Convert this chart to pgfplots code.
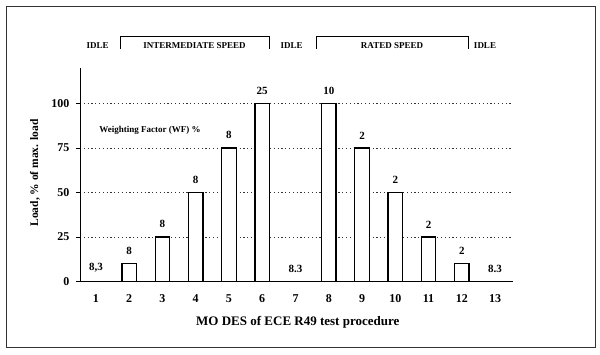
\documentclass[border=0pt]{standalone}
\usepackage{fontspec}
\setmainfont{Liberation Serif}
\usepackage{pgfplots}
\pgfplotsset{compat=1.18}
\begin{document}
\begin{tikzpicture}[x=1pt,y=1pt]
\useasboundingbox (-80,-72.5) rectangle (520,281.5);
\draw[line width=0.8pt, black!80] (-74,-65.5) rectangle (515,275.5);
\begin{axis}[
  at={(0,0)}, anchor=south west,
  width=433pt, height=213.5pt, scale only axis,
  xmin=0.52, xmax=13.54, ymin=0, ymax=120,
  axis x line=bottom, axis y line=left,
  axis line style={-, line width=0.8pt},
  xtick={1,...,13}, ytick={0,25,50,75,100},
  x tick style={draw=none}, y tick style={line width=0.8pt, black},
  tick align=outside, major tick length=4pt,
  ymajorgrids, grid style={dash pattern=on 1.2pt off 2.6pt, line width=0.8pt, black!80},
  ticklabel style={font=\bfseries\fontsize{12}{14}\selectfont},
  xticklabel style={text height=8pt, text depth=0pt, anchor=center, yshift=-13pt},
  yticklabel style={xshift=-3pt},
  /pgf/number format/assume math mode=true,
  xlabel={MO DES of ECE R49 test procedure},
  ylabel={Load, \% of max. load},
  xlabel style={font=\bfseries\fontsize{13}{15}\selectfont, at={(axis description cs:0.503,-0.19)}, anchor=center},
  ylabel style={font=\bfseries\fontsize{11.5}{14}\selectfont, at={(axis description cs:-0.104,0.508)}, anchor=center},
  clip=false,
]
\addplot[ybar, bar width=14.5pt, fill=white, draw=black, line width=1.3pt, bar shift=0pt,
  nodes near coords, point meta=explicit symbolic,
  every node near coord/.append style={font=\bfseries\fontsize{11}{13}\selectfont, yshift=5pt, black}]
  table[x=x, y=y, meta=lab]{
x y lab
1 0 8,3
2 10 8
3 25 8
4 50 8
5 75 8
6 100 25
7 0 8.3
8 100 10
9 75 2
10 50 2
11 25 2
12 10 2
13 0 8.3
};
\end{axis}
\begin{scope}[every node/.style={font=\bfseries\fontsize{9}{11}\selectfont, inner sep=0pt}]
\node at (17.6,235.5) {IDLE};
\draw[line width=0.7pt] (40,232.5) -- (40,245.5) -- (189,245.5) -- (189,232.5);
\node at (114.5,235.5) {INTERMEDIATE SPEED};
\node at (211.7,235.5) {IDLE};
\draw[line width=0.7pt] (236,232.5) -- (236,245.5) -- (388,245.5) -- (388,232.5);
\node at (312,235.5) {RATED SPEED};
\node at (405,235.5) {IDLE};
\end{scope}
\node[font=\bfseries\fontsize{9}{11}\selectfont, inner sep=0pt] at (70,151.5) {Weighting Factor (WF) \%};
\end{tikzpicture}
\end{document}
